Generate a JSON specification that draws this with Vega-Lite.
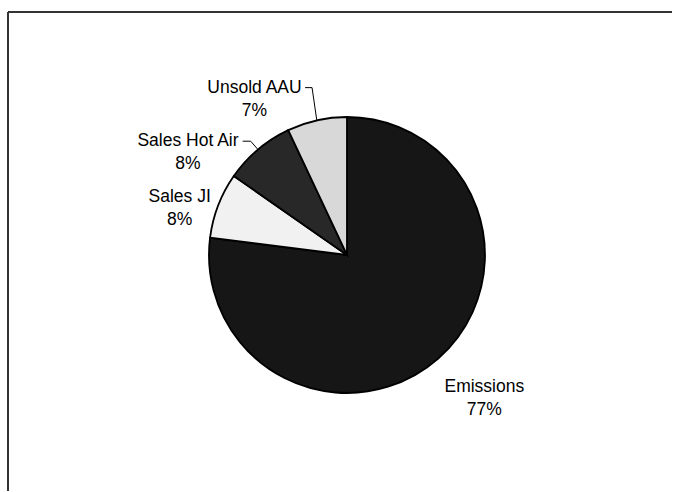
{
  "$schema": "https://vega.github.io/schema/vega-lite/v6.json",
  "autosize": {"type": "fit", "contains": "padding"},
  "width": 673,
  "height": 492,
  "padding": {"left": 7, "top": 11, "right": 0, "bottom": 0},
  "background": "white",
  "config": {
    "view": {"stroke": null},
    "text": {"font": "Liberation Sans", "fontSize": 17.5, "color": "#000"}
  },
  "data": {
    "values": [
      {"name": "Emissions", "value": 77.0, "order": 1},
      {"name": "Sales JI", "value": 7.7, "order": 2},
      {"name": "Sales Hot Air", "value": 8.3, "order": 3},
      {"name": "Unsold AAU", "value": 7.0, "order": 4}
    ]
  },
  "transform": [
    {"joinaggregate": [{"op": "sum", "field": "value", "as": "total"}]},
    {"stack": "value", "groupby": [], "sort": [{"field": "order"}], "as": ["v0", "v1"]},
    {"calculate": "(datum.v0 + datum.v1) / 2", "as": "mid"},
    {"calculate": "datum.mid / datum.total * 2 * PI", "as": "a"},
    {"calculate": "[datum.name, format(datum.value / datum.total, '.0%')]", "as": "lines"},
    {"calculate": "139 * sin(datum.a)", "as": "lx1"},
    {"calculate": "139 * cos(datum.a)", "as": "ly1"},
    {"calculate": "datum.lx1 + (datum.name == 'Unsold AAU' ? -4.7 : -7)", "as": "lx2"},
    {"calculate": "datum.ly1 + (datum.name == 'Unsold AAU' ? 32.4 : 8)", "as": "ly2"},
    {"calculate": "datum.lx2 + (datum.name == 'Unsold AAU' ? -7 : -8)", "as": "lx3"}
  ],
  "layer": [
    {
      "mark": {"type": "arc", "outerRadius": 138, "stroke": "#000", "strokeWidth": 1.8},
      "encoding": {
        "x": {"datum": 0, "type": "quantitative", "scale": {"domain": [-340, 326], "nice": false, "zero": false}, "axis": null},
        "y": {"datum": 0, "type": "quantitative", "scale": {"domain": [-237, 244], "nice": false, "zero": false}, "axis": null},
        "theta": {"field": "v0", "type": "quantitative", "scale": {"domain": [0, 100]}},
        "theta2": {"field": "v1"},
        "color": {
          "field": "name",
          "type": "nominal",
          "scale": {
            "domain": ["Emissions", "Sales JI", "Sales Hot Air", "Unsold AAU"],
            "range": ["#161616", "#f1f1f1", "#282828", "#d8d8d8"]
          },
          "legend": null
        }
      }
    },
    {
      "transform": [{"filter": "datum.name == 'Unsold AAU' || datum.name == 'Sales Hot Air'"}],
      "mark": {"type": "rule", "color": "#000", "strokeWidth": 1},
      "encoding": {
        "x": {"field": "lx1", "type": "quantitative", "scale": {"domain": [-340, 326], "nice": false, "zero": false}, "axis": null},
        "y": {"field": "ly1", "type": "quantitative", "scale": {"domain": [-237, 244], "nice": false, "zero": false}, "axis": null},
        "x2": {"field": "lx2"},
        "y2": {"field": "ly2"}
      }
    },
    {
      "transform": [{"filter": "datum.name == 'Unsold AAU' || datum.name == 'Sales Hot Air'"}],
      "mark": {"type": "rule", "color": "#000", "strokeWidth": 1},
      "encoding": {
        "x": {"field": "lx2", "type": "quantitative", "scale": {"domain": [-340, 326], "nice": false, "zero": false}, "axis": null},
        "y": {"field": "ly2", "type": "quantitative", "scale": {"domain": [-237, 244], "nice": false, "zero": false}, "axis": null},
        "x2": {"field": "lx3"},
        "y2": {"field": "ly2"}
      }
    },
    {
      "mark": {"type": "rule", "color": "#333", "strokeWidth": 2},
      "encoding": {
        "x": {"datum": -340, "type": "quantitative", "scale": {"domain": [-340, 326], "nice": false, "zero": false}, "axis": null}
      }
    },
    {
      "mark": {"type": "rule", "color": "#333", "strokeWidth": 2},
      "encoding": {
        "y": {"datum": 244, "type": "quantitative", "scale": {"domain": [-237, 244], "nice": false, "zero": false}, "axis": null}
      }
    },
    {
      "transform": [{"filter": "datum.name == 'Emissions'"}],
      "mark": {"type": "text", "radius": 185, "dx": 22, "dy": -3.5, "align": "center", "baseline": "middle", "lineHeight": 23},
      "encoding": {
        "theta": {"field": "mid", "type": "quantitative", "scale": {"domain": [0, 100]}},
        "text": {"field": "lines"}
      }
    },
    {
      "transform": [{"filter": "datum.name == 'Sales JI'"}],
      "mark": {"type": "text", "radius": 175, "dx": 3, "dy": 8.5, "align": "center", "baseline": "middle", "lineHeight": 23},
      "encoding": {
        "theta": {"field": "mid", "type": "quantitative", "scale": {"domain": [0, 100]}},
        "text": {"field": "lines"}
      }
    },
    {
      "transform": [{"filter": "datum.name == 'Sales Hot Air'"}],
      "mark": {"type": "text", "radius": 180, "dx": -36, "dy": 27.5, "align": "center", "baseline": "middle", "lineHeight": 23},
      "encoding": {
        "theta": {"field": "mid", "type": "quantitative", "scale": {"domain": [0, 100]}},
        "text": {"field": "lines"}
      }
    },
    {
      "transform": [{"filter": "datum.name == 'Unsold AAU'"}],
      "mark": {"type": "text", "radius": 172, "dx": -48, "dy": 4.5, "align": "center", "baseline": "middle", "lineHeight": 23},
      "encoding": {
        "theta": {"field": "mid", "type": "quantitative", "scale": {"domain": [0, 100]}},
        "text": {"field": "lines"}
      }
    }
  ]
}
